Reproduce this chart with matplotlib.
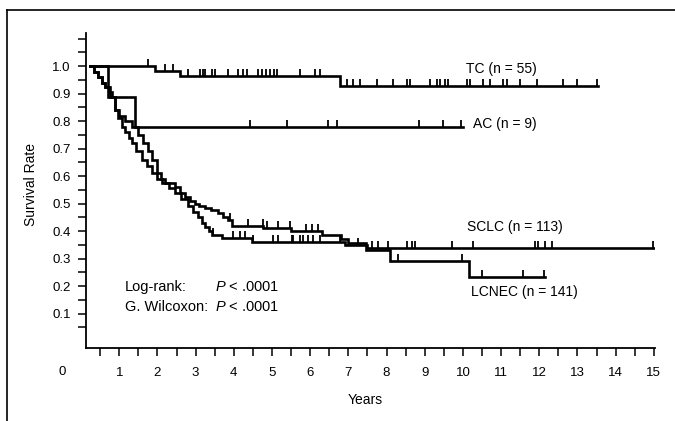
import numpy as np
import matplotlib
matplotlib.use("Agg")
import matplotlib.pyplot as plt
from matplotlib.lines import Line2D

plt.rcParams['font.family'] = ['Liberation Sans', 'DejaVu Sans']
plt.rcParams['mathtext.fontset'] = 'custom'
plt.rcParams['mathtext.rm'] = 'Liberation Sans'
plt.rcParams['mathtext.it'] = 'Liberation Sans:italic'

# ---- data ----
tc_times = [0.24, 1.93, 2.60, 6.78]
tc_surv = [1.0, 0.982, 0.963, 0.926]
tc_end = 13.55
tc_cens = [1.75, 2.20, 2.41, 2.80, 3.12, 3.19, 3.25, 3.43, 3.51, 3.85, 4.11, 4.24, 4.35,
           4.63, 4.74, 4.84, 4.95, 5.05, 5.13, 5.73, 6.13, 6.26,
           6.96, 7.12, 7.30, 7.75, 8.17, 8.53, 8.61, 9.14, 9.32, 9.40, 9.53, 9.61,
           10.10, 10.18, 10.52, 10.71, 11.05, 11.15, 11.49, 11.94, 12.62, 12.98, 13.50]

ac_times = [0.24, 0.71, 1.41]
ac_surv = [1.0, 0.889, 0.778]
ac_end = 10.0
ac_cens = [4.42, 5.39, 6.47, 6.70, 8.85, 9.48, 9.95]

sclc_times = [0.24, 0.35, 0.45, 0.55, 0.63, 0.72, 0.80, 0.89, 0.98, 1.07, 1.16, 1.25,
              1.34, 1.45, 1.60, 1.72, 1.86, 2.00, 2.12, 2.30, 2.46, 2.62, 2.80, 2.93,
              3.06, 3.16, 3.25, 3.35, 3.43, 3.69, 4.48, 6.90, 7.50]
sclc_surv = [1.0, 0.98, 0.96, 0.94, 0.924, 0.905, 0.887, 0.84, 0.81, 0.78, 0.76, 0.74,
             0.72, 0.69, 0.66, 0.635, 0.61, 0.59, 0.575, 0.555, 0.54, 0.515, 0.49, 0.47,
             0.45, 0.43, 0.415, 0.40, 0.385, 0.375, 0.36, 0.35, 0.338]
sclc_end = 15.0
sclc_cens = [3.46, 3.98, 4.16, 4.29, 4.50, 5.03, 5.16, 5.52, 5.55, 5.73, 5.81, 5.94,
             6.07, 6.26, 6.78, 7.25, 7.62, 7.77, 8.04, 8.53, 8.66, 8.74, 9.71, 10.26,
             11.88, 11.96, 12.15, 12.33, 14.97]

lcnec_times = [0.24, 0.35, 0.45, 0.55, 0.63, 0.76, 0.89, 1.00, 1.15, 1.34, 1.48, 1.62,
               1.75, 1.86, 2.00, 2.10, 2.20, 2.46, 2.60, 2.72, 2.85, 2.98, 3.10, 3.25,
               3.40, 3.59, 3.72, 3.85, 3.95, 4.77, 5.50, 6.30, 6.80, 7.00, 7.45, 8.10,
               10.15]
lcnec_surv = [1.0, 0.98, 0.96, 0.94, 0.924, 0.887, 0.84, 0.82, 0.80, 0.78, 0.75, 0.72,
              0.69, 0.66, 0.61, 0.59, 0.575, 0.56, 0.54, 0.524, 0.51, 0.50, 0.49, 0.484,
              0.475, 0.465, 0.45, 0.44, 0.42, 0.41, 0.40, 0.385, 0.37, 0.355, 0.33, 0.29,
              0.233]
lcnec_end = 12.15
lcnec_cens = [3.90, 4.37, 4.76, 4.87, 5.16, 5.47, 5.90, 6.05, 6.20, 8.30, 9.97,
              10.50, 11.57, 12.12]

labels = ["TC (n = 55)", "AC (n = 9)", "SCLC (n = 113)", "LCNEC (n = 141)"]
xticks_major = list(range(1, 16))
yticks_major = [0.1, 0.2, 0.3, 0.4, 0.5, 0.6, 0.7, 0.8, 0.9, 1.0]

# ---- figure ----
fig = plt.figure(figsize=(6.75, 4.21), dpi=100)
W, H = 675, 421
ax = fig.add_axes([86 / W, 1 - 348 / H, (655 - 86) / W, (348 - 33) / H])

ax.set_xlim(0.13, 15.03)
ax.set_ylim(-0.025, 1.12)


def draw_curve(times, surv, end, cens):
    x = list(times) + [end]
    y = list(surv) + [surv[-1]]
    ax.step(x, y, where='post', color='black', lw=1.9, solid_joinstyle='miter',
            zorder=3)
    t = np.asarray(times)
    s = np.asarray(surv)
    idx = np.searchsorted(t, np.asarray(cens), side='right') - 1
    cy = s[np.clip(idx, 0, len(s) - 1)]
    ax.plot(cens, cy, linestyle='none', marker=2, markersize=5, mew=1.3,
            color='black', zorder=4)


draw_curve(tc_times, tc_surv, tc_end, tc_cens)
draw_curve(ac_times, ac_surv, ac_end, ac_cens)
draw_curve(lcnec_times, lcnec_surv, lcnec_end, lcnec_cens)
draw_curve(sclc_times, sclc_surv, sclc_end, sclc_cens)

# spines
for s in ['top', 'right']:
    ax.spines[s].set_visible(False)
for s in ['left', 'bottom']:
    ax.spines[s].set_linewidth(1.3)

xt = np.arange(0.5, 15.01, 0.5)
ax.set_xticks(xt)
ax.set_xticklabels([str(int(v)) if float(v).is_integer() else '' for v in xt])
yt = np.arange(0.05, 1.101, 0.05)
ax.set_yticks(yt)
ax.set_yticklabels([('%.1f' % v) if any(abs(v - m) < 1e-6 for m in yticks_major) else ''
                    for v in yt])
ax.tick_params(axis='both', length=6, width=1.1, labelsize=9.5, color='black')
ax.tick_params(axis='x', pad=8)
ax.tick_params(axis='y', pad=5)

ax.set_xlabel('Years', fontsize=10)
ax.xaxis.set_label_coords((365 - 86) / (655 - 86), -(393 - 348) / (348 - 33))
ax.set_ylabel('Survival Rate', fontsize=10)
ax.yaxis.set_label_coords(-(86 - 38) / (655 - 86), (348 - 185) / (348 - 33))

# lone corner label
fig.text(62 / W, 1 - 372 / H, '0', fontsize=9.5, ha='center', va='center')

# curve labels
ax.text(11.0, 0.99, labels[0], fontsize=10, ha='center', va='center')
ax.text(11.1, 0.79, labels[1], fontsize=10, ha='center', va='center')
ax.text(11.35, 0.415, labels[2], fontsize=10, ha='center', va='center')
ax.text(11.6, 0.178, labels[3], fontsize=10, ha='center', va='center')

ax.text(1.15, 0.195, 'Log-rank:', fontsize=10.5, ha='left', va='center')
ax.text(3.5, 0.195, '$\\it{P}$ < .0001', fontsize=10.5, ha='left', va='center')
ax.text(1.15, 0.125, 'G. Wilcoxon:', fontsize=10.5, ha='left', va='center')
ax.text(3.5, 0.125, '$\\it{P}$ < .0001', fontsize=10.5, ha='left', va='center')

# outer frame (left and top edges visible)
fig.add_artist(Line2D([7 / W, 7 / W], [0, 1 - 10 / H], transform=fig.transFigure,
                      color='black', lw=1.2))
fig.add_artist(Line2D([7 / W, 1.0], [1 - 10 / H, 1 - 10 / H], transform=fig.transFigure,
                      color='black', lw=1.2))

fig.savefig('out.png', dpi=100)
